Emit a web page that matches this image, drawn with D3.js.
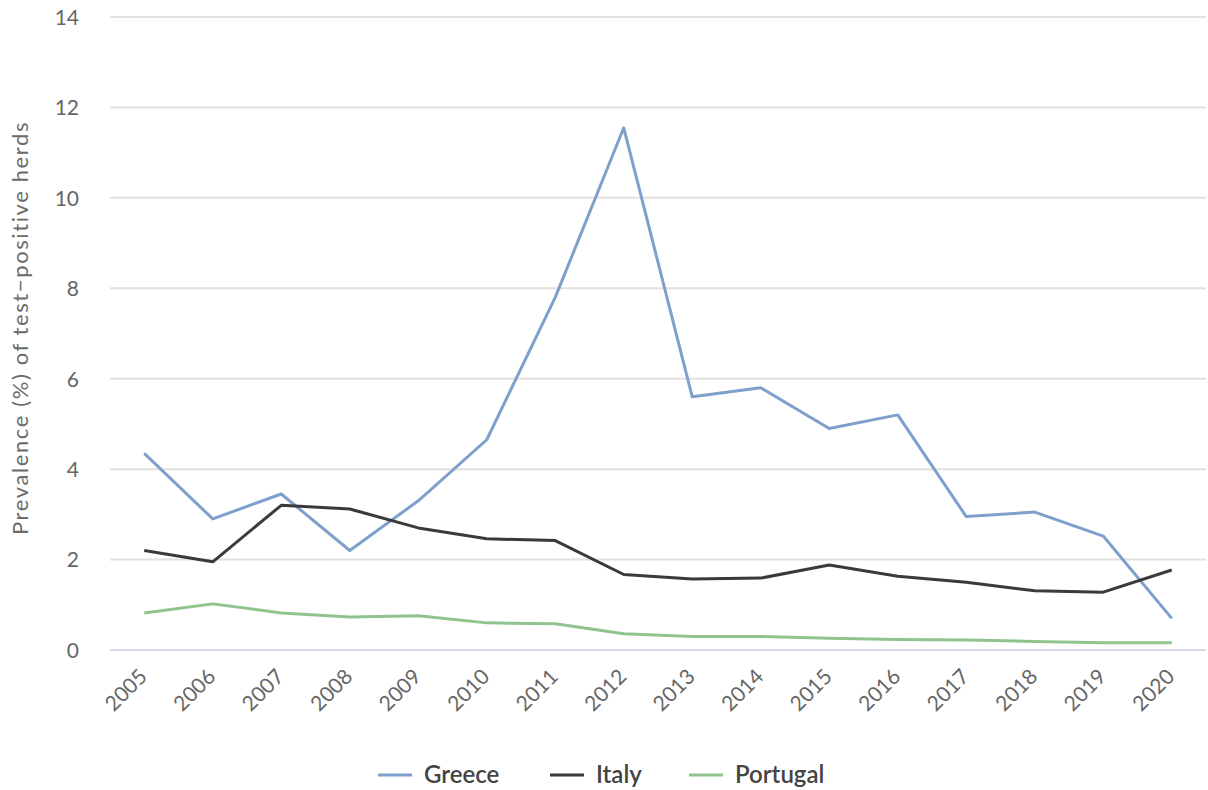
<!DOCTYPE html>
<html><head><meta charset="utf-8">
<script src="https://cdn.jsdelivr.net/npm/d3@7"></script>
<style>body{margin:0;background:#fff;} svg{display:block;}</style>
</head><body>
<svg id="chart" width="1208" height="790"></svg>
<script>
const years = ["2005","2006","2007","2008","2009","2010","2011","2012","2013","2014","2015","2016","2017","2018","2019","2020"];
const greece = [4.35,2.9,3.45,2.2,3.3,4.65,7.8,11.55,5.6,5.8,4.9,5.2,2.95,3.05,2.52,0.7];
const italy = [2.2,1.95,3.2,3.12,2.7,2.46,2.42,1.67,1.57,1.59,1.88,1.63,1.5,1.31,1.28,1.77];
const portugal = [0.82,1.02,0.82,0.73,0.76,0.6,0.58,0.36,0.3,0.3,0.26,0.23,0.22,0.19,0.16,0.16];
const yTicks = [0,2,4,6,8,10,12,14];
const seriesNames = ["Greece","Italy","Portugal"];
const colors = ["#7f9fcc","#3a3a3a","#8fc48f"];

const svg = d3.select("#chart");
const mLeft = 110, mRight = 1206, mTop = 17, mBottom = 650;
const x = d3.scaleBand().domain(years).range([mLeft, mRight]);
const y = d3.scaleLinear().domain([0,14]).range([mBottom, mTop]);
const font = "Lato, 'Open Sans', sans-serif";

// gridlines
svg.append("g").selectAll("line").data(yTicks.filter(d=>d>0)).join("line")
  .attr("x1", mLeft).attr("x2", mRight)
  .attr("y1", d=>y(d)).attr("y2", d=>y(d))
  .attr("stroke", "#e4e0dc").attr("stroke-width", 2);
// baseline
svg.append("line").attr("x1", mLeft).attr("x2", mRight).attr("y1", y(0)).attr("y2", y(0))
  .attr("stroke", "#d9d9e6").attr("stroke-width", 2);

// y tick labels
const yAxis = d3.axisLeft(y).tickValues(yTicks).tickSize(0).tickPadding(0);
const gy = svg.append("g").attr("transform", `translate(${mLeft-31},0)`).call(yAxis);
gy.select(".domain").remove();
gy.selectAll("text").attr("font-family", font).attr("font-size", 21).attr("fill", "#666")
  .attr("dy", "0.35em");

// x tick labels
const xAxis = d3.axisBottom(x).tickSize(0).tickPadding(0);
const gx = svg.append("g").attr("transform", `translate(0,${mBottom})`).call(xAxis);
gx.select(".domain").remove();
gx.selectAll("text").attr("font-family", font).attr("font-size", 21).attr("fill", "#666")
  .attr("text-anchor", "end").attr("dy", null)
  .attr("transform", "translate(4,28) rotate(-45)");

// y label
svg.append("text").attr("transform", `translate(28,328) rotate(-90)`)
  .attr("text-anchor", "middle").attr("font-family", font).attr("font-size", 22)
  .attr("letter-spacing", 1.6).attr("fill", "#6b6b6b")
  .text("Prevalence (%) of test\u2212positive herds");

// lines
const line = d3.line().x((d,i)=>x(years[i]) + x.bandwidth()/2).y(d=>y(d));
[greece, italy, portugal].forEach((s,i)=>{
  svg.append("path").datum(s).attr("d", line).attr("fill","none")
    .attr("stroke", colors[i]).attr("stroke-width", 3).attr("stroke-linejoin","round");
});

// legend
const legX = [378, 550, 689];
const lg = svg.append("g");
seriesNames.forEach((n,i)=>{
  lg.append("line").attr("x1", legX[i]).attr("x2", legX[i]+34).attr("y1", 775).attr("y2", 775)
    .attr("stroke", colors[i]).attr("stroke-width", 3);
  lg.append("text").attr("x", legX[i]+46).attr("y", 775).attr("dy","0.35em")
    .attr("font-family", font).attr("font-size", 24).attr("font-weight", 600).attr("fill", "#444")
    .text(n);
});
</script>
</body></html>
